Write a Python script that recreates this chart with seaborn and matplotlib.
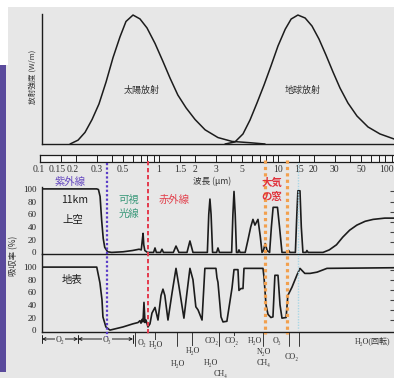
import pandas as pd
import seaborn as sns
import matplotlib.pyplot as plt
from matplotlib import transforms
from matplotlib.patches import Rectangle

# top panel: radiation curves (wavelength in um, relative intensity)
solar_wl = [0.179, 0.209, 0.239, 0.274, 0.313, 0.359, 0.411, 0.470, 0.528, 0.605, 0.692,
            0.793, 0.926, 1.08, 1.24, 1.44, 1.69, 2.01, 2.44, 3.13, 4.11, 5.82, 7.78]
solar_val = [0, 3, 9, 19, 31, 48, 67, 83, 95, 100, 97, 90, 78, 64, 51, 38, 28, 19, 11, 5, 2, 1, 0]

earth_wl = [3.59, 4.35, 5.08, 5.82, 6.66, 7.63, 8.73, 10.0, 11.5, 12.9, 14.7, 16.9, 19.3,
            22.1, 25.3, 29.0, 33.2, 38.7, 46.1, 57.1, 71.9, 94.4]
earth_val = [0, 1.6, 7.8, 18.6, 31.8, 45.7, 60.5, 76, 89, 96.9, 100, 97.7, 91.5, 81.4, 69,
             55.8, 43.4, 31.8, 21.7, 13.2, 7.8, 3.9]

# absorption at 11 km altitude (%)
upper_wl = [0.104, 0.30, 0.31, 0.32, 0.33, 0.34, 0.35, 0.37, 0.40, 0.50, 0.60, 0.68, 0.71,
            0.725, 0.735, 0.745, 0.76, 0.80, 0.90, 0.926, 0.95, 1.03, 1.06, 1.09, 1.32, 1.39,
            1.47, 1.72, 1.82, 1.93, 2.55, 2.62, 2.68, 2.74, 2.82, 3.05, 3.13, 3.22, 4.08, 4.18,
            4.27, 4.37, 4.48, 4.62, 4.70, 4.80, 5.3, 5.6, 5.9, 6.16, 6.4, 6.79, 7.1, 7.34, 7.55,
            7.8, 8.1, 8.5, 8.8, 9.1, 9.9, 10.3, 10.8, 12.0, 12.3, 12.6, 14.0, 14.4, 14.7, 15.3,
            15.7, 16.2, 17.2, 17.5, 17.9, 23.9, 27, 31, 35, 40, 46, 54, 63, 79, 94.4]
upper_abs = [100, 100, 99, 88, 50, 22, 8, 1, 0, 1, 3, 5, 4, 20, 30, 12, 3, 0, 0, 7, 0, 0, 5,
             0, 0, 10, 0, 0, 18, 0, 0, 60, 84, 60, 0, 0, 7, 0, 0, 60, 96, 60, 0, 0, 4, 0, 0,
             20, 40, 52, 43, 52, 25, 0, 3, 14, 3, 0, 40, 71, 71, 40, 0, 0, 3, 0, 0, 60, 97, 97,
             40, 0, 0, 3, 0, 0, 4, 12, 24, 35, 43, 49, 52, 54, 54]

# absorption at the ground (%)
lower_wl = [0.104, 0.30, 0.319, 0.332, 0.338, 0.358, 0.387, 0.498, 0.605, 0.666, 0.692, 0.706,
            0.72, 0.734, 0.748, 0.763, 0.778, 0.808, 0.84, 0.873, 0.926, 0.981, 1.04, 1.08,
            1.12, 1.19, 1.29, 1.39, 1.47, 1.62, 1.72, 1.82, 1.93, 2.04, 2.13, 2.30, 2.43, 3.01,
            3.07, 3.13, 3.32, 3.45, 3.72, 4.11, 4.27, 4.61, 4.70, 4.89, 5.08, 5.18, 7.48, 7.63,
            7.93, 8.24, 8.72, 9.07, 9.42, 10.0, 10.4, 10.8, 11.7, 12.1, 13.1, 14.4, 15.3, 16.8,
            18.6, 21.3, 25.8, 94.4]
lower_abs = [100, 100, 75, 48, 21, 5, 0, 5, 10, 12, 15, 11, 17, 13, 44, 12, 16, 5, 10, 27, 36,
             16, 55, 65, 55, 16, 60, 98, 70, 19, 60, 98, 80, 37, 32, 16, 98, 98, 83, 76, 21, 13,
             14, 67, 96, 96, 63, 66, 66, 98, 98, 84, 40, 25, 20, 21, 87, 87, 40, 19, 20, 55, 68,
             87, 98, 90, 90, 92, 98, 99]

ruler_ticks = [0.1, 0.15, 0.2, 0.3, 0.5, 1, 1.5, 2, 3, 5, 10, 15, 20, 30, 50, 100]
ruler_labels = ["0.1", "0.15", "0.2", "0.3", "0.5", "1", "1.5", "2", "3", "5",
                "10", "15", "20", "30", "50", "100"]
ruler_lines = [0.1, 0.15, 0.2, 0.3, 0.4, 0.5, 0.6, 0.7, 0.8, 0.9, 1, 1.5, 2, 3, 4, 5, 6, 7,
               8, 9, 10, 15, 20, 30, 40, 50, 60, 70, 80, 90, 100]
pct_ticks = [0, 20, 40, 60, 80, 100]

# region boundaries: UV / visible, visible / IR, atmospheric window, CO2 band
bound_wl = [0.366, 0.81, 7.8, 11.9, 14.7]

# molecule labels under the ground panel
mol_names = ["O₂", "O₃", "O₂", "H₂O", "H₂O", "H₂O", "CO₂", "H₂O", "CH₄", "CO₂", "H₂O",
             "N₂O", "CH₄", "O₃", "CO₂", "H₂O(回転)"]
mol_wl = [0.147, 0.366, 0.72, 0.95, 1.44, 1.93, 2.75, 2.72, 3.3, 4.11, 6.4, 7.63, 7.63,
          9.8, 12.9, 62]
mol_lines = [0.628, 0.926, 1.42, 1.89, 3.19, 4.27, 7.48, 12.4, 15.0]

W, H = 394, 378
BG = "#e7e7e7"
INK = "#1c1c1c"
CJK = "Noto Sans CJK JP"
SERIF = ["Liberation Serif", "DejaVu Serif", CJK]

sns.set_style("white")
plt.rcParams["font.family"] = ["DejaVu Sans", CJK]


def box(x0, y0, x1, y1):
    return [x0 / W, 1 - y1 / H, (x1 - x0) / W, (y1 - y0) / H]


def fx(x):
    return x / W


def fy(y):
    return 1 - y / H


fig = plt.figure(figsize=(W / 100, H / 100), dpi=100, facecolor=BG)
fig.add_artist(Rectangle((0, fy(7)), 1, 7 / H, transform=fig.transFigure, color="white", lw=0))
fig.add_artist(Rectangle((0, fy(65)), fx(8), 58 / H, transform=fig.transFigure, color="white", lw=0))
fig.add_artist(Rectangle((0, fy(372)), fx(6), (372 - 65) / H, transform=fig.transFigure,
                         color="#5a4a9c", lw=0))

# ---- top: radiation ----
ax_top = fig.add_axes(box(42, 14, 397, 144))
ax_top.set_facecolor("none")
sns.lineplot(x=solar_wl, y=solar_val, ax=ax_top, color=INK, lw=1.1, estimator=None, sort=False)
sns.lineplot(x=earth_wl, y=earth_val, ax=ax_top, color=INK, lw=1.1, estimator=None, sort=False)
ax_top.set_xscale("log")
ax_top.set_xlim(0.104, 100)
ax_top.set_ylim(0, 100.8)
for s in ["top", "right"]:
    ax_top.spines[s].set_visible(False)
for s in ["left", "bottom"]:
    ax_top.spines[s].set_color(INK)
    ax_top.spines[s].set_linewidth(1.0)
ax_top.set_xticks([])
ax_top.set_yticks([])
ax_top.minorticks_off()
ax_top.set_xlabel("")
ax_top.set_ylabel("")

fig.text(fx(142), fy(90), "太陽放射", ha="center", va="center", fontsize=6.5, family=CJK, color="#333333")
fig.text(fx(303), fy(90), "地球放射", ha="center", va="center", fontsize=6.5, family=CJK, color="#333333")
fig.text(fx(33), fy(77), "放射強度 (W/m)", ha="center", va="center", rotation=90, fontsize=5.5,
         family=CJK, color="#333333")

# ---- ruler ----
ax_r = fig.add_axes(box(40, 155, 397, 162))
ax_r.set_facecolor("#f5f5f5")
ax_r.set_xscale("log")
ax_r.set_xlim(0.1, 100)
ax_r.set_ylim(0, 1)
ax_r.vlines(ruler_lines, 0, 1, color=INK, lw=0.7)
ax_r.set_xticks([])
ax_r.set_yticks([])
ax_r.minorticks_off()
for s in ax_r.spines.values():
    s.set_color(INK)
    s.set_linewidth(0.9)
tr_r = transforms.blended_transform_factory(ax_r.transData, fig.transFigure)
# small sideways nudges so the crowded labels at the ends stay apart / inside
label_dx = {"0.1": -1, "0.15": -4, "0.2": -3, "100": -11}
for t, lab in zip(ruler_ticks, ruler_labels):
    tt = transforms.offset_copy(tr_r, fig=fig, x=label_dx.get(lab, 0), units="dots")
    ax_r.text(t, fy(169), lab, transform=tt, ha="center", va="center", fontsize=7,
              family=SERIF, color="#333333", clip_on=False)
fig.text(fx(212), fy(181), "波長 (μm)", ha="center", va="center", fontsize=6.2, family=CJK,
         color="#333333")

# ---- absorption panels ----
ax_mid = fig.add_axes(box(42, 187, 397, 254))
ax_low = fig.add_axes(box(42, 254, 397, 332))
for ax, wl, ab, lim in [(ax_mid, upper_wl, upper_abs, (-2.5, 103)),
                        (ax_low, lower_wl, lower_abs, (-3, 120.8))]:
    ax.set_facecolor("none")
    sns.lineplot(x=wl, y=ab, ax=ax, color=INK, lw=1.2, estimator=None, sort=False)
    ax.set_xscale("log")
    ax.set_xlim(0.104, 100)
    ax.set_ylim(*lim)
    ax.set_xticks([])
    ax.minorticks_off()
    ax.set_yticks(pct_ticks)
    ax.set_yticklabels([str(v) for v in pct_ticks], family=SERIF, fontsize=6.5, color="#222222")
    ax.tick_params(axis="y", direction="out", length=3, width=0.8, pad=1, color=INK)
    ax.set_xlabel("")
    ax.set_ylabel("")
    for s in ["top", "right"]:
        ax.spines[s].set_visible(False)
    for s in ["left", "bottom"]:
        ax.spines[s].set_color(INK)
        ax.spines[s].set_linewidth(1.0)
    sec = ax.secondary_yaxis("right")
    sec.set_yticks([16, 32, 48, 64, 80, 96])
    sec.tick_params(direction="in", length=5, width=0.8, labelright=False, color="#444444")
    sec.spines["right"].set_color(INK)

fig.text(fx(14), fy(256), "吸収率 (%)", ha="center", va="center", rotation=90, fontsize=6,
         family=CJK, color="#333333")

fig.text(fx(70), fy(182), "紫外線", ha="center", va="center", fontsize=7.5, family=CJK, color="#6548c0")
fig.text(fx(75), fy(200), "11km", ha="center", va="center", fontsize=7.5, family=CJK, color=INK)
fig.text(fx(73), fy(220), "上空", ha="center", va="center", fontsize=7.5, family=CJK, color=INK)
fig.text(fx(129), fy(200), "可視", ha="center", va="center", fontsize=7.5, family=CJK, color="#3d9a7c")
fig.text(fx(129), fy(214), "光線", ha="center", va="center", fontsize=7.5, family=CJK, color="#3d9a7c")
fig.text(fx(174), fy(200), "赤外線", ha="center", va="center", fontsize=7.5, family=CJK, color="#e2404c")
fig.text(fx(272), fy(183), "大気", ha="center", va="center", fontsize=7.5, family=CJK, color="#e0323c",
         weight="bold")
fig.text(fx(272), fy(197), "の窓", ha="center", va="center", fontsize=7.5, family=CJK, color="#e0323c",
         weight="bold")
fig.text(fx(72), fy(280), "地表", ha="center", va="center", fontsize=7.5, family=CJK, color=INK)

# boundary lines across the panels
tr = transforms.blended_transform_factory(ax_low.transData, fig.transFigure)
bound_style = [("#5a3cc8", (0, (1, 1)), 1.6, 163, 337),
               ("#e33a4c", (0, (2.2, 1.4)), 1.4, 161, 335),
               ("#f2a04e", (0, (1, 1)), 2.3, 160, 334),
               ("#f2a04e", (0, (1, 1)), 2.3, 160, 334),
               ("#a9d6e5", (0, (1, 1)), 1.0, 163, 330)]
for w, (c, ls, lw, y0, y1) in zip(bound_wl, bound_style):
    ax_low.plot([w, w], [fy(y0), fy(y1)], transform=tr, color=c, ls=ls, lw=lw, clip_on=False,
                zorder=5)

# O2 / O3 ranges
for a, b in [(0.104, 0.209), (0.209, 0.605)]:
    ax_low.annotate("", xy=(a, fy(339)), xytext=(b, fy(339)), xycoords=tr, textcoords=tr,
                    arrowprops=dict(arrowstyle="<->", lw=0.7, color=INK, shrinkA=0, shrinkB=0,
                                    mutation_scale=5), annotation_clip=False)
for w in [0.104, 0.209, 0.605]:
    ax_low.plot([w, w], [fy(335), fy(343)], transform=tr, color=INK, lw=0.7, clip_on=False)

for w in mol_lines:
    ax_low.plot([w, w], [fy(332), fy(346)], transform=tr, color=INK, lw=0.6, clip_on=False)

mol_y = [340, 340, 343, 345, 364, 351, 341, 363, 374, 341, 341, 352, 363, 341, 357, 341]
for name, w, y in zip(mol_names, mol_wl, mol_y):
    ax_low.text(w, fy(y), name, transform=tr, ha="center", va="center", fontsize=5.8,
                family=SERIF, color="#333333", clip_on=False,
                bbox=dict(facecolor=BG, edgecolor="none", pad=0.6))

fig.savefig("out.png", dpi=100, facecolor=BG)
